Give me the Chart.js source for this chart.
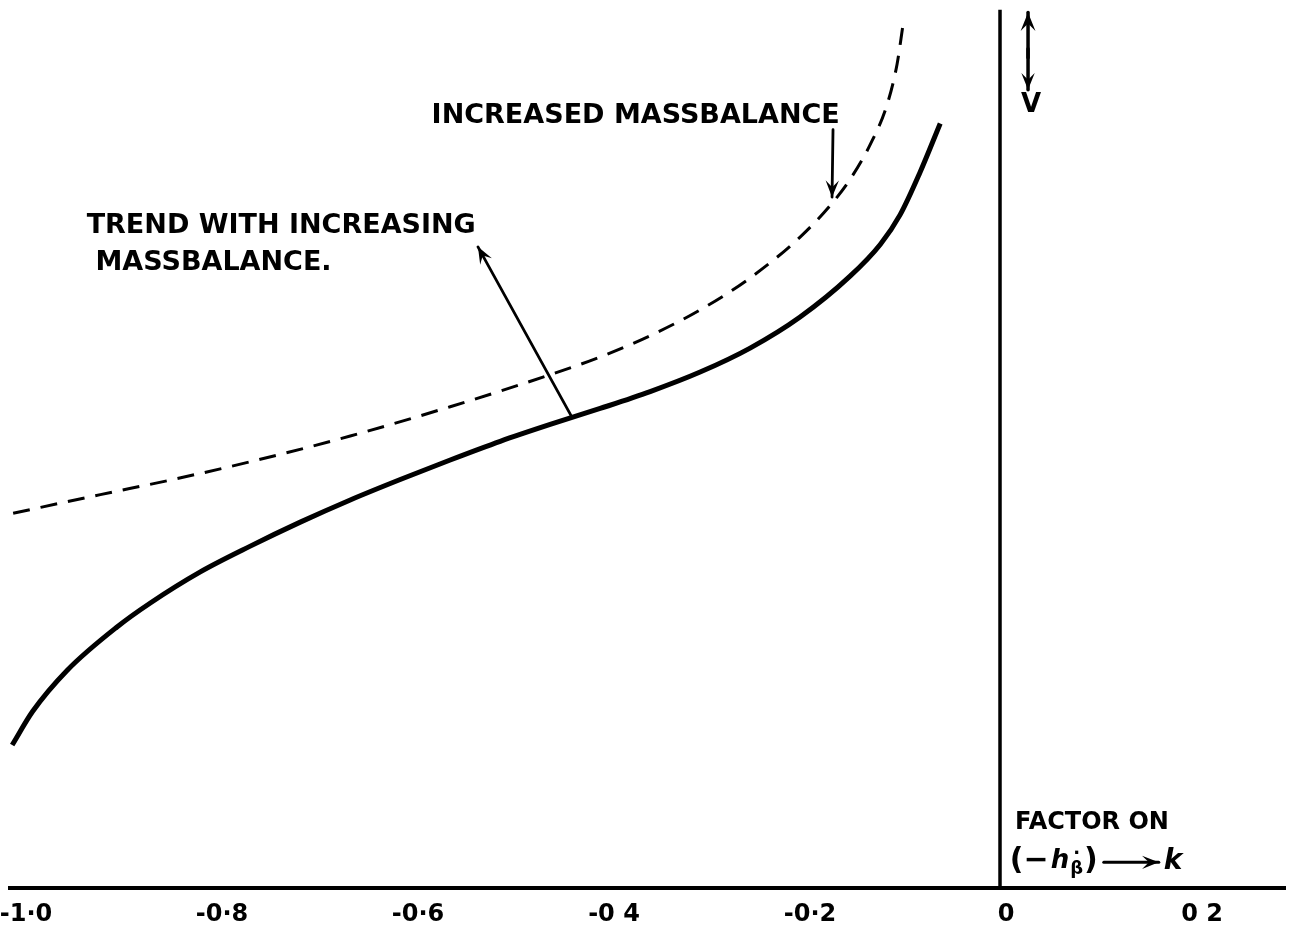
<!DOCTYPE html>
<html>
<head>
<meta charset="utf-8">
<script src="https://cdn.jsdelivr.net/npm/chart.js@4"></script>
<style>
  html, body { margin: 0; padding: 0; background: #fff; }
  canvas { display: block; }
</style>
</head>
<body>
<canvas id="chart" width="1297" height="930"></canvas>
<script>
// x axis ticks as lettered on the drawing
const xTicks = [-1.0, -0.8, -0.6, -0.4, -0.2, 0, 0.2];
const xTickLabels = ["-1·0", "-0·8", "-0·6", "-0 4", "-0·2", "0", "0 2"];

// solid curve (present massbalance), V in arbitrary units 0..100
const solidX = [-1.008, -0.987, -0.952, -0.901, -0.867, -0.816, -0.765, -0.714, -0.663, -0.612, -0.561, -0.510, -0.459, -0.408, -0.357, -0.306, -0.255, -0.204, -0.153, -0.122, -0.102, -0.082, -0.061];
const solidV = [16.1, 19.9, 24.5, 29.4, 32.1, 35.6, 38.5, 41.2, 43.7, 46.0, 48.2, 50.3, 52.2, 54.0, 55.9, 58.1, 60.8, 64.3, 68.9, 72.5, 75.8, 80.5, 86.1];

// dashed curve (increased massbalance)
const dashedX = [-1.007, -0.918, -0.844, -0.765, -0.663, -0.561, -0.459, -0.408, -0.357, -0.306, -0.255, -0.204, -0.173, -0.153, -0.133, -0.115, -0.105, -0.099];
const dashedV = [42.2, 44.3, 46.0, 48.0, 50.9, 54.2, 57.8, 59.8, 62.2, 65.1, 68.7, 73.3, 76.9, 79.8, 83.6, 88.3, 92.8, 97.2];

// vertical V axis at x = 0
const axisX = [0, 0];
const axisV = [0, 98.9];

const FONT = '"DejaVu Sans", sans-serif';

const toPoints = (xs, vs) => xs.map((x, i) => ({ x: x, y: vs[i] }));

const arrowHead = (ctx, x1, y1, x2, y2, size) => {
  const a = Math.atan2(y2 - y1, x2 - x1);
  ctx.beginPath();
  ctx.moveTo(x2, y2);
  ctx.lineTo(x2 - size * Math.cos(a - 0.38), y2 - size * Math.sin(a - 0.38));
  ctx.lineTo(x2 - size * 0.55 * Math.cos(a), y2 - size * 0.55 * Math.sin(a));
  ctx.lineTo(x2 - size * Math.cos(a + 0.38), y2 - size * Math.sin(a + 0.38));
  ctx.closePath();
  ctx.fill();
};

const arrow = (ctx, x1, y1, x2, y2, size) => {
  ctx.beginPath();
  ctx.moveTo(x1, y1);
  ctx.lineTo(x2, y2);
  ctx.stroke();
  arrowHead(ctx, x1, y1, x2, y2, size);
};

const notes = {
  id: "notes",
  afterDatasetsDraw(chart) {
    const { ctx, scales: { x, y } } = chart;
    const px = (v) => x.getPixelForValue(v);
    const py = (v) => y.getPixelForValue(v);
    ctx.save();
    ctx.fillStyle = "#000";
    ctx.strokeStyle = "#000";
    ctx.lineCap = "round";
    ctx.textBaseline = "middle";
    ctx.textAlign = "left";
    ctx.font = "bold 27px " + FONT;

    ctx.fillText("INCREASED MASSBALANCE", px(-0.580), py(86.9));
    ctx.fillText("TREND WITH INCREASING", px(-0.932), py(74.5));
    ctx.fillText("MASSBALANCE.", px(-0.923), py(70.4));

    ctx.lineWidth = 2.8;
    arrow(ctx, px(-0.1704), py(85.4), px(-0.1714), py(77.8), 18);
    arrow(ctx, px(-0.4367), py(53.0), px(-0.5327), py(72.2), 18);

    // V arrow near the top of the axis
    ctx.lineWidth = 3.5;
    const vx = px(0.0286);
    arrow(ctx, vx, py(93.5), vx, py(98.6), 20);
    arrow(ctx, vx, py(94.5), vx, py(89.9), 18);
    ctx.font = "bold 26px " + FONT;
    ctx.textAlign = "center";
    ctx.fillText("V", px(0.0316), py(88.2));

    // axis caption
    ctx.textAlign = "left";
    ctx.font = "bold 24px " + FONT;
    ctx.fillText("FACTOR ON", px(0.0153), py(7.3));
    let cx = px(0.010);
    const cy = py(3.0);
    ctx.font = "bold 30px " + FONT;
    ctx.fillText("(−", cx, cy);
    cx += ctx.measureText("(−").width + 2;
    ctx.font = "italic bold 26px " + FONT;
    ctx.fillText("h", cx, cy);
    cx += ctx.measureText("h").width + 1;
    ctx.font = "bold 18px " + FONT;
    ctx.fillText("β", cx, cy + 8);
    ctx.fillText("·", cx + 3, cy - 7);
    cx += ctx.measureText("β").width + 1;
    ctx.font = "bold 30px " + FONT;
    ctx.fillText(")", cx, cy);
    cx += ctx.measureText(")").width + 6;
    ctx.lineWidth = 3;
    arrow(ctx, cx, cy + 1, cx + 55, cy + 1, 18);
    ctx.font = "italic bold 28px " + FONT;
    ctx.fillText("k", cx + 60, cy);
    ctx.restore();
  }
};

const ctx = document.getElementById("chart").getContext("2d");
const chart = new Chart(ctx, {
  type: "line",
  data: {
    datasets: [
      {
        label: "V",
        data: toPoints(solidX, solidV),
        borderColor: "#000",
        borderWidth: 5,
        pointRadius: 0,
        cubicInterpolationMode: "monotone",
        fill: false,
      },
      {
        label: "Increased massbalance",
        data: toPoints(dashedX, dashedV),
        borderColor: "#000",
        borderWidth: 3,
        borderDash: [17, 11],
        pointRadius: 0,
        cubicInterpolationMode: "monotone",
        fill: false,
      },
      {
        label: "axis",
        data: toPoints(axisX, axisV),
        borderColor: "#000",
        borderWidth: 3.5,
        pointRadius: 0,
        tension: 0,
        fill: false,
      },
    ],
  },
  options: {
    responsive: false,
    animation: false,
    layout: { padding: { left: 10, right: 12, top: 0, bottom: 0 } },
    plugins: { legend: { display: false }, tooltip: { enabled: false } },
    scales: {
      x: {
        type: "linear",
        min: -1.0102,
        max: 0.2908,
        grid: { display: false, drawTicks: false },
        border: { display: true, width: 4, color: "#000" },
        afterBuildTicks: (scale) => {
          scale.ticks = xTicks.map((v) => ({ value: v }));
        },
        afterFit: (scale) => {
          scale.height = 42;
          scale.paddingLeft = 0;
          scale.paddingRight = 0;
        },
        ticks: {
          autoSkip: false,
          maxRotation: 0,
          padding: 12,
          labelOffset: 6,
          color: "#000",
          font: { family: FONT, size: 24, weight: "bold" },
          callback: (value, index) => xTickLabels[index],
        },
      },
      y: {
        type: "linear",
        display: false,
        min: 0,
        max: 100,
      },
    },
  },
  plugins: [notes],
});
</script>
</body>
</html>
